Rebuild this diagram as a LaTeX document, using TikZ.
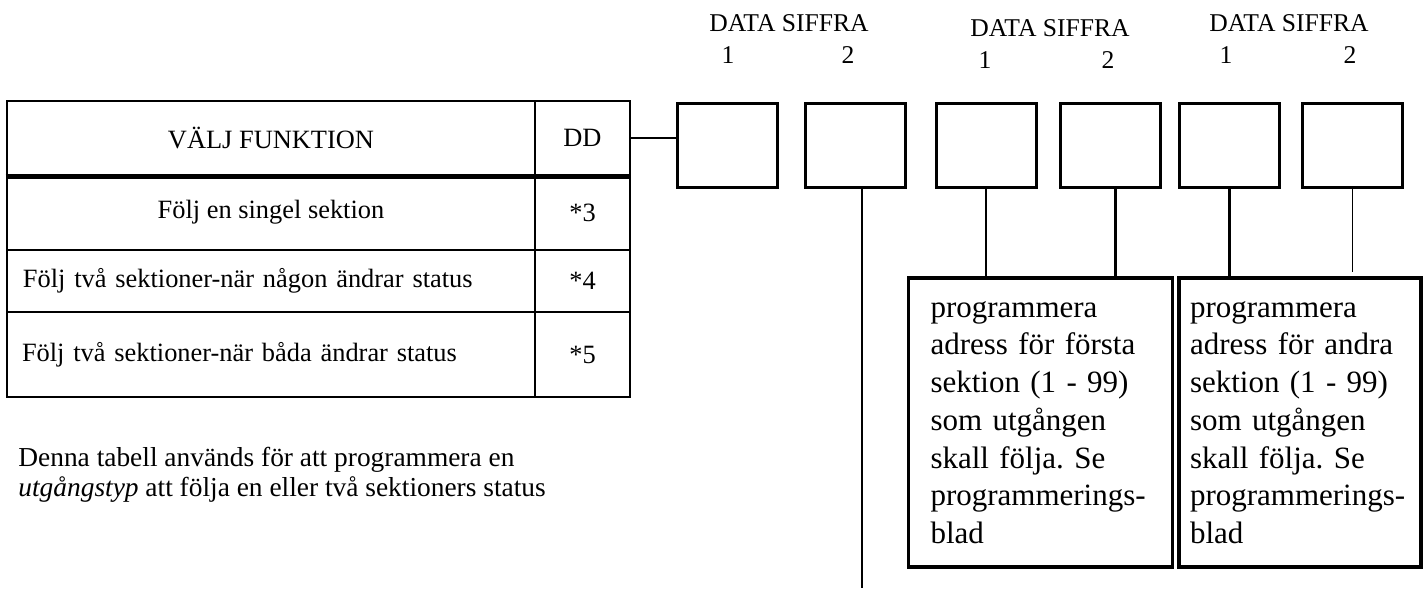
\documentclass[tikz,border=0pt]{standalone}
\usepackage{fontspec}
\setmainfont{Liberation Serif}
\usetikzlibrary{positioning}
\frenchspacing

\tikzset{
  cell/.style={draw, line width=1.4pt, inner sep=0pt, font=\fontsize{13.2}{15}\selectfont},
  digbox/.style={draw, line width=1.5pt, minimum width=50pt, minimum height=42pt, inner sep=0pt},
  adrbox/.style={draw, line width=1.6pt, minimum height=144.5pt, align=left, text width=110pt, font=\fontsize{15.5}{18.85}\selectfont},
  siffra/.style={font=\fontsize{12.8}{15}\selectfont, inner sep=0pt},
  link/.style={line width=1.2pt}
}

\begin{document}
\begin{tikzpicture}[x=0.5pt, y=-0.5pt]
  \useasboundingbox (0,0) rectangle (1426,589);

  % function table
  \node[cell, minimum width=264pt, minimum height=37pt] (hdr) at (271,138) {VÄLJ FUNKTION};
  \node[cell, minimum width=47.5pt, minimum height=37pt] (hdrdd) at (582.5,138) {DD};
  \node[cell, minimum width=264pt, minimum height=37.5pt] (sel3) at (271,212.5) {Följ en singel sektion};
  \node[cell, minimum width=47.5pt, minimum height=37.5pt] (code3) at (582.5,212.5) {*3};
  \node[cell, text width=248pt, inner xsep=8pt, minimum height=31pt, align=left] (sel4) at (271,281) {Följ två sektioner-när någon ändrar status};
  \node[cell, minimum width=47.5pt, minimum height=31pt] (code4) at (582.5,281) {*4};
  \node[cell, text width=249pt, inner xsep=7.5pt, minimum height=42.5pt, align=left] (sel5) at (271,354.5) {Följ två sektioner-när båda ändrar status};
  \node[cell, minimum width=47.5pt, minimum height=42.5pt] (code5) at (582.5,354.5) {*5};
  \draw[line width=2.2pt] (hdr.south west) -- (hdrdd.south east);

  \node[anchor=west, align=left, inner sep=0pt, font=\fontsize{13.7}{15}\selectfont] (note) at (18,475)
    {Denna tabell används för att programmera en\\\textit{utgångstyp} att följa en eller två sektioners status};

  % data digit boxes
  \node[digbox] (sif1) at (727,145) {};
  \node[digbox] (sif2) at (855,145) {};
  \node[digbox] (sif3) at (986,145) {};
  \node[digbox] (sif4) at (1110.5,145) {};
  \node[digbox] (sif5) at (1229.5,145) {};
  \node[digbox] (sif6) at (1352.5,145) {};

  \node[siffra] (lbl1) at (789,23) {DATA SIFFRA};
  \node[siffra] (n1a) at (728,55) {1};
  \node[siffra] (n1b) at (848,55) {2};
  \node[siffra] (lbl2) at (1050,28) {DATA SIFFRA};
  \node[siffra] (n2a) at (985,60) {1};
  \node[siffra] (n2b) at (1108,60) {2};
  \node[siffra] (lbl3) at (1289,23) {DATA SIFFRA};
  \node[siffra] (n3a) at (1226,55) {1};
  \node[siffra] (n3b) at (1350,55) {2};

  % address boxes
  \node[adrbox, inner xsep=11pt] (adr1) at (1040.5,422.5)
    {programmera\\adress för första\\sektion (1 - 99)\\som utgången\\skall följa. Se\\programmerings-\\blad};
  \node[adrbox, inner xsep=5.5pt] (adr2) at (1300,422.5)
    {programmera\\adress för andra\\sektion (1 - 99)\\som utgången\\skall följa. Se\\programmerings-\\blad};

  % connectors
  \coordinate (tail) at (862,588);
  \draw[line width=1pt] (hdrdd.east) -- (hdrdd.east -| sif1.west);
  \draw[link] ([xshift=3.5pt]sif2.south) -- ([xshift=3.5pt]sif2.south |- tail);
  \draw[link] (sif3.south) -- (sif3.south |- adr1.north);
  \draw[link] ([xshift=2.5pt]sif4.south) -- ([xshift=2.5pt]sif4.south |- adr1.north);
  \draw[link] (sif5.south) -- (sif5.south |- adr2.north);
  \draw[line width=0.9pt] (sif6.south) -- ([yshift=2pt]sif6.south |- adr2.north);
\end{tikzpicture}
\end{document}
